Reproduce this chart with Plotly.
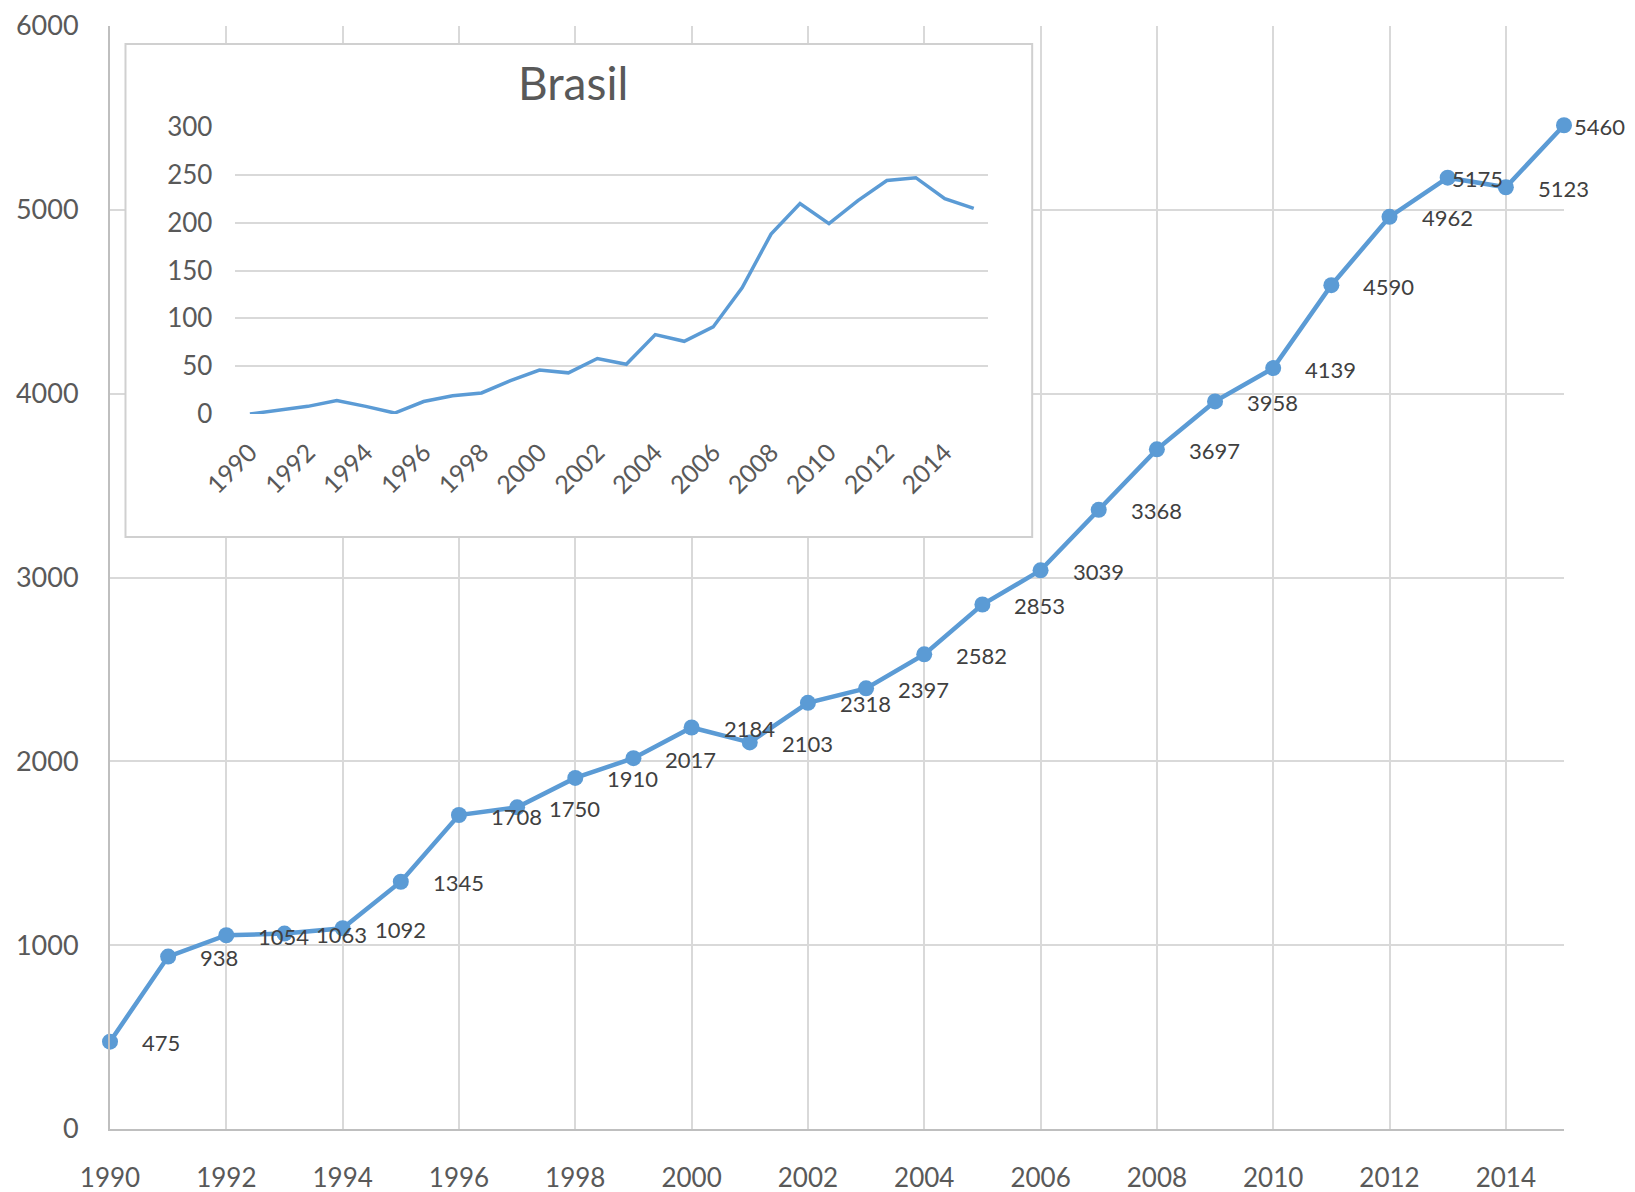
import plotly.graph_objects as go

years = list(range(1990, 2016))
world_values = [475, 938, 1054, 1063, 1092, 1345, 1708, 1750, 1910, 2017, 2184, 2103,
                2318, 2397, 2582, 2853, 3039, 3368, 3697, 3958, 4139, 4590, 4962, 5175,
                5123, 5460]
brasil_values = [0, 4, 8, 14, 8, 1, 13, 19, 22, 35, 46, 43, 58, 52, 83, 76, 91, 132,
                 188, 220, 199, 223, 244, 247, 225, 215]
main_xticks = list(range(1990, 2015, 2))
main_yticks = [0, 1000, 2000, 3000, 4000, 5000, 6000]
inset_xticks = [str(y) for y in range(1990, 2015, 2)]
inset_yticks = [0, 50, 100, 150, 200, 250, 300]
inset_title = "Brasil"

OFF = 8  # page body margin
W, H = 1635 - 2 * OFF, 1192 - OFF
# reference screen coordinates (full size), converted to figure-local
L, R, T, B = 109.5 - OFF, 1564 - OFF, 26 - OFF, 1129 - OFF
PW, PH = R - L, B - T


def px(x):
    return ((x - OFF) - L) / PW


def py(y):
    return (B - (y - OFF)) / PH


BLUE = "#5B9BD5"
GRID = "#d9d9d9"
FONT = "Lato, Liberation Sans, sans-serif"

fig = go.Figure()

fig.add_trace(go.Scatter(
    x=years, y=world_values, mode="lines+markers",
    line=dict(color=BLUE, width=4.5),
    marker=dict(color=BLUE, size=16),
    xaxis="x", yaxis="y", showlegend=False, hoverinfo="x+y",
    cliponaxis=False,
))

# empty trace for the inset's white panel (box subplot)
fig.add_trace(go.Scatter(x=[], y=[], xaxis="x2", yaxis="y2", showlegend=False,
                         hoverinfo="skip"))

fig.add_trace(go.Scatter(
    x=[str(y) for y in years], y=brasil_values, mode="lines",
    line=dict(color=BLUE, width=3.5),
    xaxis="x3", yaxis="y3", showlegend=False,
))

# data labels
annotations = []
for i, (yr, v) in enumerate(zip(years, world_values)):
    shift = 30
    if yr == 2013:
        shift = 2
    elif yr == 2015:
        shift = 8
    annotations.append(dict(
        x=yr, y=v, xref="x", yref="y", text=str(v), showarrow=False,
        xanchor="left", yanchor="middle", xshift=shift, yshift=-1,
        font=dict(size=22, color="#404040", family=FONT),
    ))

# inset geometry (reference pixels)
ix0, ix1 = 235, 988
iy_top, iy_bot = 127, 414
dom_x = [px(ix0), px(ix1)]
dom_y = [py(iy_bot), py(iy_top)]
bx0, bx1, by0, by1 = 125, 1032, 44, 537
box_x = [px(bx0), px(bx1)]
box_y = [py(by1), py(by0)]

shapes = [dict(
    type="rect", xref="x2 domain", yref="y2 domain",
    x0=0, x1=1, y0=0, y1=1,
    line=dict(color="#d0d0d0", width=2), layer="above",
)]

annotations.append(dict(
    x=(px(573) - box_x[0]) / (box_x[1] - box_x[0]),
    y=(py(82) - box_y[0]) / (box_y[1] - box_y[0]),
    xref="x2 domain", yref="y2 domain", text=inset_title,
    showarrow=False, xanchor="center", yanchor="middle",
    font=dict(size=46, color="#595959", family=FONT),
))

fig.update_layout(
    width=W, height=H,
    margin=dict(l=L, r=W - R, t=T, b=H - B, autoexpand=False),
    paper_bgcolor="white", plot_bgcolor="white",
    font=dict(family=FONT),
    xaxis=dict(
        range=[1990, 2015], tickvals=main_xticks,
        showgrid=True, gridcolor=GRID, gridwidth=2,
        showline=True, linecolor="#bfbfbf", linewidth=2,
        zeroline=False, ticks="", ticklabelstandoff=25,
        tickfont=dict(size=26, color="#595959", family=FONT),
        domain=[0, 1], automargin=False,
    ),
    yaxis=dict(
        range=[0, 6000], tickvals=main_yticks,
        showgrid=True, gridcolor=GRID, gridwidth=2,
        showline=True, linecolor="#bfbfbf", linewidth=2,
        zeroline=False, ticks="", ticklabelstandoff=24,
        tickfont=dict(size=27, color="#595959", family=FONT),
        domain=[0, 1], automargin=False,
    ),
    xaxis2=dict(domain=box_x, anchor="y2", visible=False, range=[0, 1],
                showgrid=False, zeroline=False),
    yaxis2=dict(domain=box_y, anchor="x2", visible=False, range=[0, 1],
                showgrid=False, zeroline=False),
    xaxis3=dict(
        type="category", range=[-0.5, 25.5], domain=dom_x, anchor="y3",
        tickvals=inset_xticks, tickangle=-45,
        showgrid=False, showline=False, zeroline=False, ticks="",
        ticklabelstandoff=18, automargin=False,
        tickfont=dict(size=25, color="#595959", family=FONT),
    ),
    yaxis3=dict(
        range=[0, 300], tickvals=inset_yticks, domain=dom_y, anchor="x3",
        showgrid=True, gridcolor=GRID, gridwidth=2,
        showline=False, zeroline=False, ticks="",
        ticklabelstandoff=22, automargin=False,
        tickfont=dict(size=26, color="#595959", family=FONT),
    ),
    shapes=shapes,
    annotations=annotations,
)

fig.write_html("out.html")
